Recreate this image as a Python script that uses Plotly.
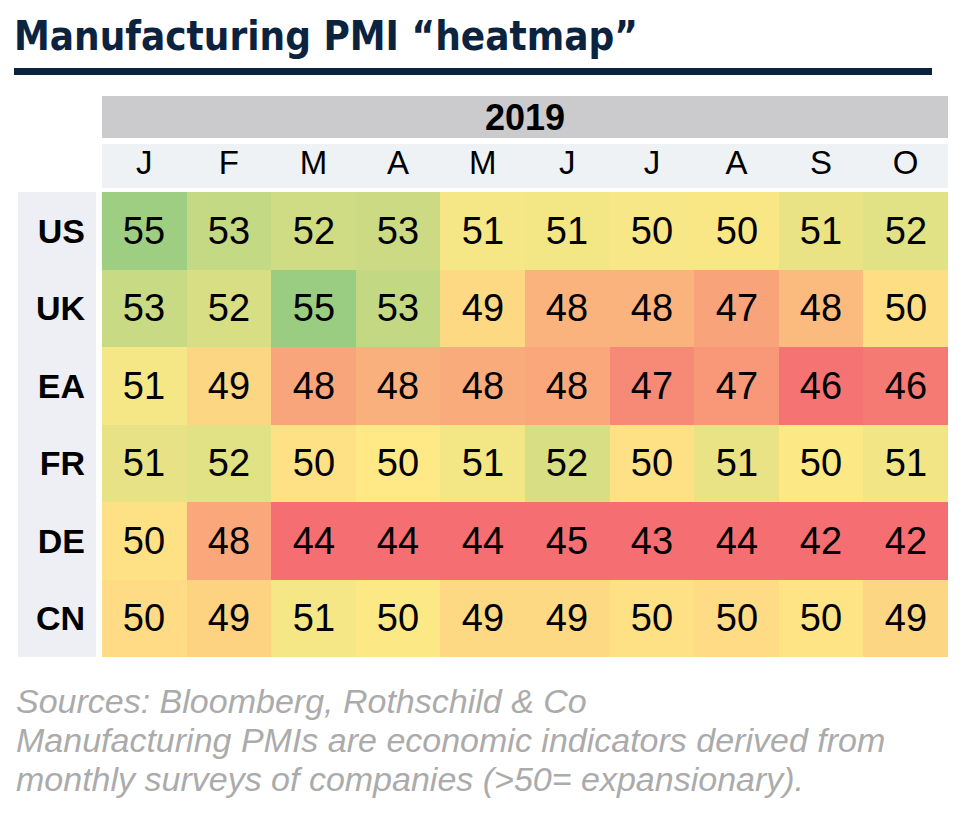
import plotly.graph_objects as go

W, H = 966, 824
OFF = 8  # page margin around the plot div

months = ["J", "F", "M", "A", "M", "J", "J", "A", "S", "O"]
countries = ["US", "UK", "EA", "FR", "DE", "CN"]

# PMI readings (one decimal, shown rounded in the cells)
us = [54.9, 53.0, 52.4, 52.6, 50.5, 50.6, 50.4, 50.3, 51.1, 51.5]
uk = [52.8, 52.0, 55.1, 53.1, 49.4, 48.0, 48.0, 47.4, 48.3, 49.6]
ea = [50.5, 49.3, 47.5, 47.9, 47.7, 47.6, 46.5, 47.0, 45.7, 45.9]
fr = [51.2, 51.5, 49.7, 50.0, 50.6, 52.0, 49.7, 51.1, 50.1, 50.7]
de = [49.7, 47.6, 44.1, 44.4, 44.3, 45.0, 43.2, 43.5, 41.7, 42.1]
cn = [49.5, 49.2, 50.5, 50.1, 49.4, 49.4, 49.7, 49.5, 49.8, 49.3]
pmi = [us, uk, ea, fr, de, cn]

zmin, zmax = 41.7, 55.1


def px_x(p):
    return (p - OFF) / W


def px_y(p):
    return 1 - (p - OFF) / H


def stop(v):
    return (v - zmin) / (zmax - zmin)


scale = [
    [0.0, "#F56F72"],
    [stop(45.5), "#F56F72"],
    [stop(50.0), "#FFE986"],
    [1.0, "#9ACD81"],
]

fig = go.Figure(go.Heatmap(
    z=pmi,
    x=list(range(len(months))),
    y=countries,
    zmin=zmin, zmax=zmax,
    colorscale=scale,
    showscale=False,
    texttemplate="%{z:.0f}",
    textfont=dict(family="Liberation Sans, Arial", size=38, color="black"),
    hoverinfo="skip",
))

label_font = "Liberation Sans, Arial"

fig.update_xaxes(
    domain=[px_x(102), px_x(948)],
    side="top",
    tickvals=list(range(len(months))),
    ticktext=months,
    tickfont=dict(family=label_font, size=33, color="black"),
    ticks="", showgrid=False, zeroline=False, showline=False,
    ticklabelstandoff=10,
)
fig.update_yaxes(
    domain=[px_y(657), px_y(192)],
    autorange="reversed",
    tickfont=dict(family=label_font, size=34, color="black", weight="bold"),
    ticks="", showgrid=False, zeroline=False, showline=False,
    ticklabelstandoff=16,
)

shapes = [
    # title rule
    dict(x0=px_x(14), x1=px_x(932), y0=px_y(75), y1=px_y(68), fillcolor="#0C2340"),
    # year band
    dict(x0=px_x(102), x1=px_x(948), y0=px_y(138), y1=px_y(96), fillcolor="#CBCACC"),
    # month band
    dict(x0=px_x(102), x1=px_x(948), y0=px_y(188), y1=px_y(144), fillcolor="#EFF2F4"),
    # country label band
    dict(x0=px_x(18), x1=px_x(96), y0=px_y(657), y1=px_y(192), fillcolor="#EEEFF4"),
]
for s in shapes:
    s.update(type="rect", xref="paper", yref="paper", line=dict(width=0), layer="below")

notes = [
    "Sources: Bloomberg, Rothschild & Co",
    "Manufacturing PMIs are economic indicators derived from",
    "monthly surveys of companies (>50= expansionary).",
]
annotations = [
    dict(text="<b>Manufacturing PMI “heatmap”</b>", x=px_x(12), y=px_y(36),
         xanchor="left", yanchor="middle",
         font=dict(family="Liberation Sans Narrow, Arial Narrow, DejaVu Sans Condensed",
                   size=40, color="#0C2340")),
    dict(text="<b>2019</b>", x=px_x(525), y=px_y(117), xanchor="center", yanchor="middle",
         font=dict(family=label_font, size=36, color="black")),
]
for i, line in enumerate(notes):
    annotations.append(dict(
        text="<i>" + line + "</i>", x=px_x(14), y=px_y(701 + 39 * i),
        xanchor="left", yanchor="middle",
        font=dict(family=label_font, size=34, color="#ABABAB")))
for a in annotations:
    a.update(xref="paper", yref="paper", showarrow=False)

fig.update_layout(
    width=W, height=H,
    margin=dict(l=0, r=0, t=0, b=0),
    paper_bgcolor="white", plot_bgcolor="white",
    shapes=shapes, annotations=annotations,
)

fig.write_html("out.html")
